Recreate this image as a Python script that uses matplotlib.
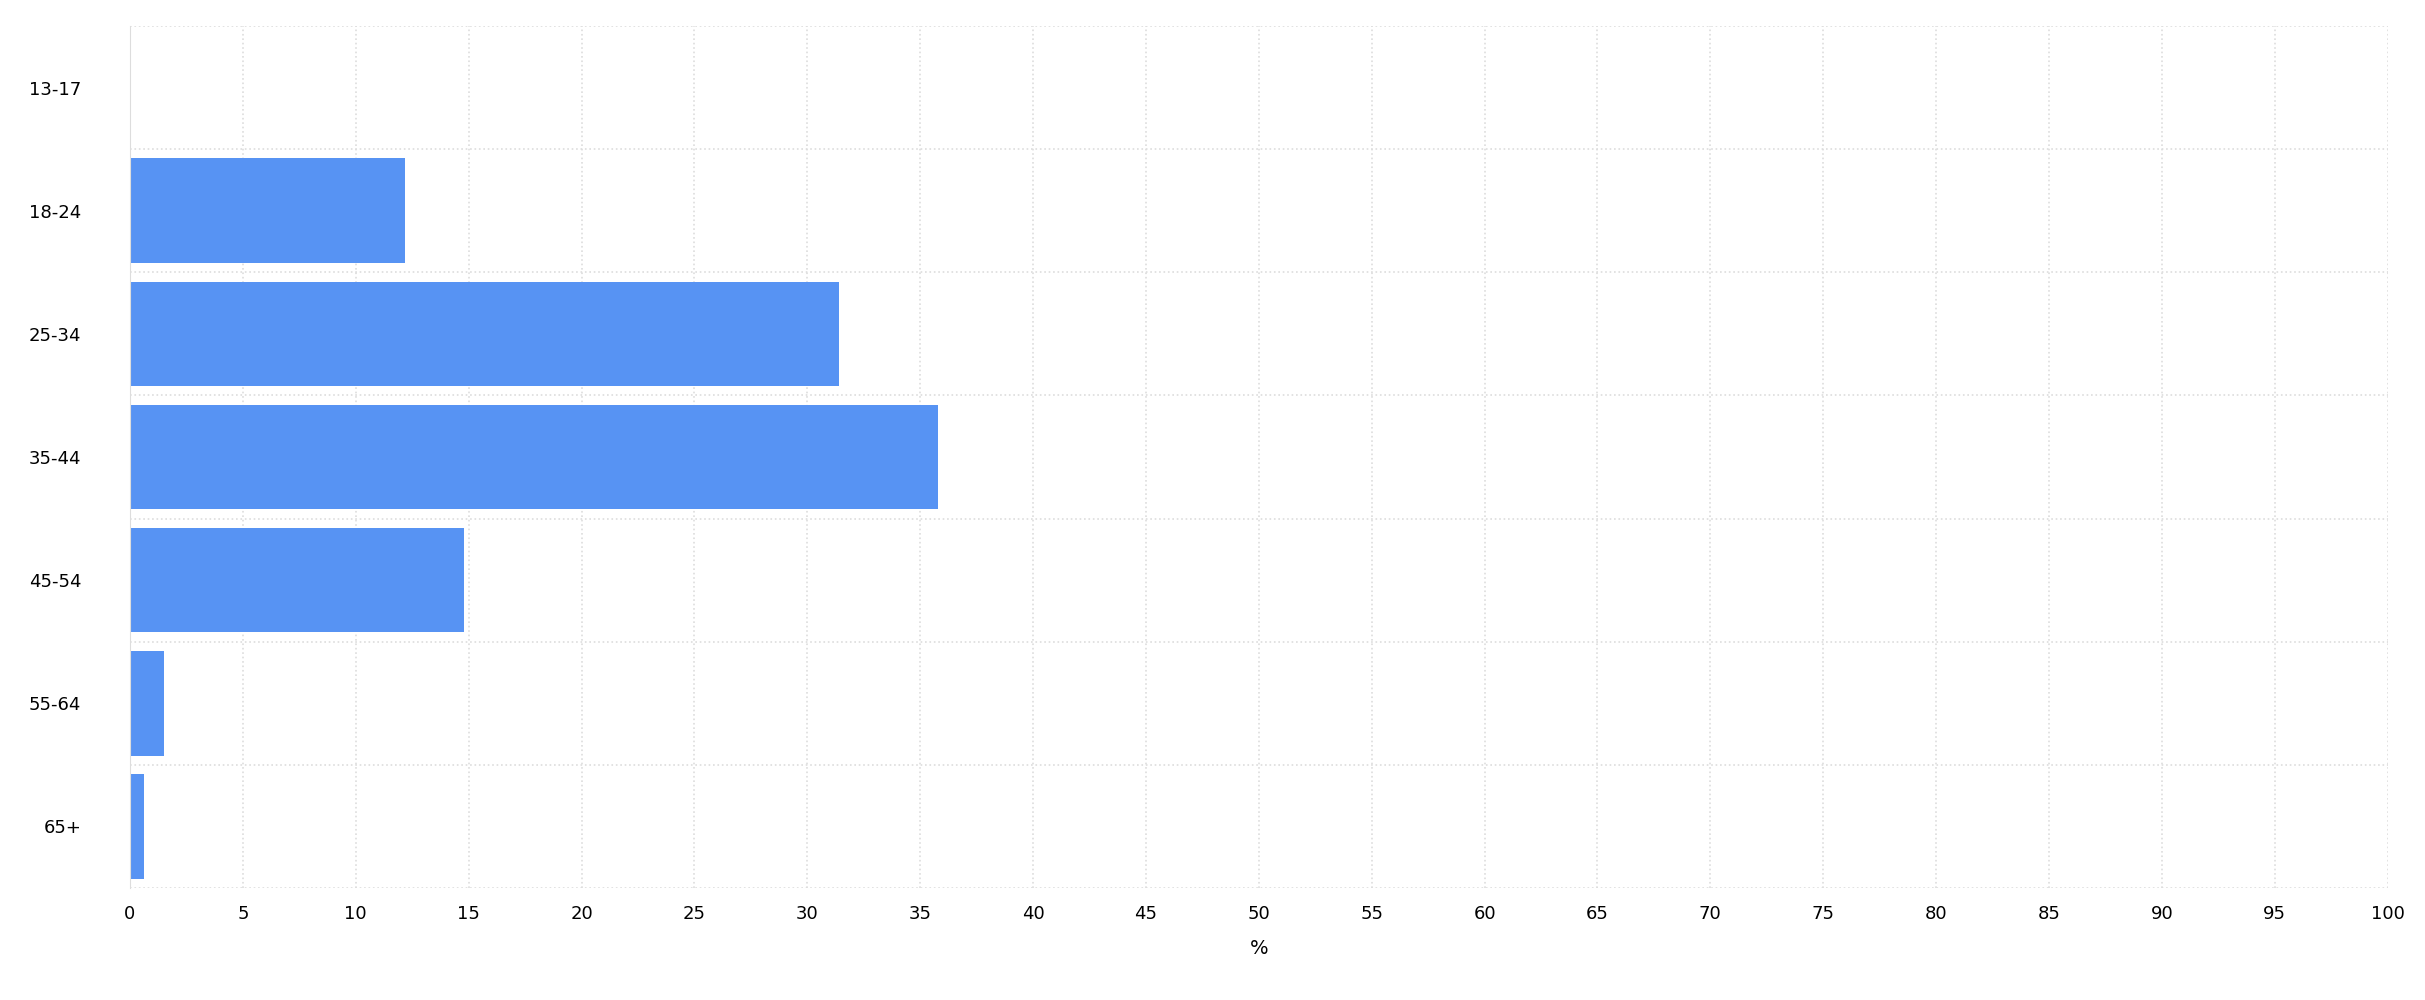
import matplotlib.pyplot as plt
import numpy as np

# Data
age_groups = ['13-17', '18-24', '25-34', '35-44', '45-54', '55-64', '65+']
share = [0, 12.2, 31.4, 35.8, 14.8, 1.5, 0.6]

fig = plt.figure(figsize=(24.25, 10), dpi=100)
ax = fig.add_axes([0.0536, 0.112, 0.931, 0.862])

y = np.arange(len(age_groups))
ax.barh(y, share, height=0.85, color='#5793f3', zorder=2)

ax.set_yticks(y)
ax.set_yticklabels(age_groups, fontsize=13)
ax.set_ylim(len(age_groups) - 0.5, -0.5)
ax.set_xlim(0, 100)
ax.set_xticks(np.arange(0, 101, 5))
ax.tick_params(axis='x', labelsize=13, length=0, pad=12)
ax.tick_params(axis='y', length=0, pad=35)
ax.set_xlabel('%', fontsize=14, labelpad=12)

# gridlines sit on band edges for y
ax.set_yticks(np.arange(-0.5, len(age_groups), 1), minor=True)
ax.grid(True, which='minor', axis='y', color='#dddddd', linestyle=':', linewidth=1.2, zorder=0)
ax.grid(True, which='major', axis='x', color='#dddddd', linestyle=':', linewidth=1.2, zorder=0)
ax.tick_params(which='minor', length=0)

for side in ['top', 'right', 'bottom']:
    ax.spines[side].set_visible(False)
ax.spines['left'].set_color('#dddddd')

fig.savefig('out.png', dpi=100)
